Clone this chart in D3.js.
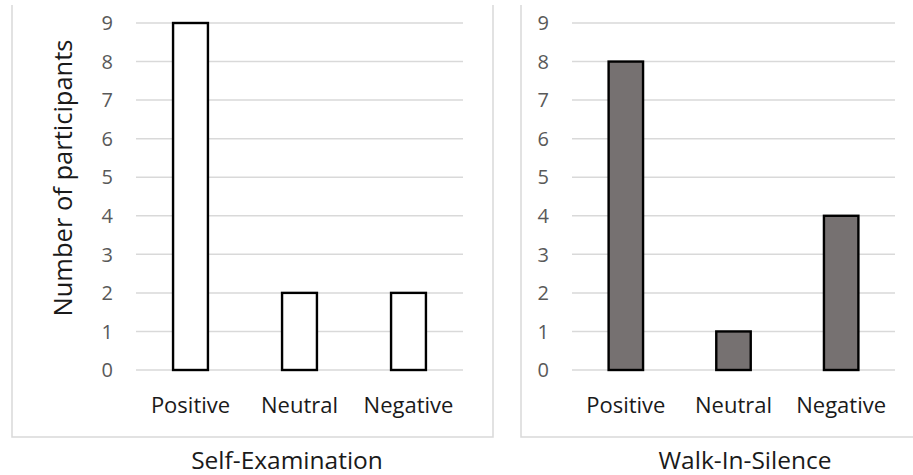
<!DOCTYPE html>
<html><head><meta charset="utf-8">
<script src="https://cdn.jsdelivr.net/npm/d3@7/dist/d3.min.js"></script>
<style>body{margin:0;background:#fff}svg{display:block}</style>
</head><body><svg id="c" width="913" height="475"></svg>
<script>
const categories = ["Positive", "Neutral", "Negative"];
const selfExamination = [9, 2, 2];
const walkInSilence = [8, 1, 4];
const yTicks = [0,1,2,3,4,5,6,7,8,9];
const panelTitles = ["Self-Examination", "Walk-In-Silence"];
const yTitle = "Number of participants";

const svg = d3.select("#c");
const font = "'Open Sans', sans-serif";
const y = d3.scaleLinear().domain([0, 9]).range([370, 23]);

const panels = [
  {values: selfExamination, title: panelTitles[0], fill: "#ffffff", box: [12, 493], plot: [136, 463], tx: 287},
  {values: walkInSilence, title: panelTitles[1], fill: "#767171", box: [521, 914], plot: [572, 895], tx: 745}
];

panels.forEach(p => {
  const g = svg.append("g");
  g.append("path")
    .attr("d", `M${p.box[0]},5V437H${p.box[1]}V5`)
    .attr("fill", "none").attr("stroke", "#d9d9d9").attr("stroke-width", 1.5);

  const x = d3.scaleBand().domain(categories).range(p.plot).paddingInner(0.68).paddingOuter(0.34);

  g.selectAll(".grid").data(yTicks).join("line")
    .attr("x1", p.plot[0]).attr("x2", p.plot[1])
    .attr("y1", d => y(d)).attr("y2", d => y(d))
    .attr("stroke", "#d9d9d9").attr("stroke-width", 1.5);

  g.selectAll(".yt").data(yTicks).join("text")
    .attr("x", p.plot[0] - 23).attr("y", d => y(d)).attr("dy", "0.36em")
    .attr("text-anchor", "end").attr("font-family", font).attr("font-size", 20)
    .attr("fill", "#595959").text(d => d);

  g.selectAll(".bar").data(p.values).join("rect")
    .attr("x", (d, i) => x(categories[i])).attr("width", x.bandwidth())
    .attr("y", d => y(d)).attr("height", d => y(0) - y(d))
    .attr("fill", p.fill).attr("stroke", "#000").attr("stroke-width", 2.4);

  g.selectAll(".xl").data(categories).join("text")
    .attr("x", d => x(d) + x.bandwidth() / 2).attr("y", 413)
    .attr("text-anchor", "middle").attr("font-family", font).attr("font-size", 22)
    .attr("fill", "#1a1a1a").text(d => d);

  g.append("text").attr("x", p.tx).attr("y", 469)
    .attr("text-anchor", "middle").attr("font-family", font).attr("font-size", 24.5)
    .attr("fill", "#1a1a1a").text(p.title);
});

svg.append("text").attr("transform", "translate(72,178) rotate(-90)")
  .attr("text-anchor", "middle").attr("font-family", font).attr("font-size", 25.5)
  .attr("fill", "#1a1a1a").text(yTitle);
</script></body></html>
